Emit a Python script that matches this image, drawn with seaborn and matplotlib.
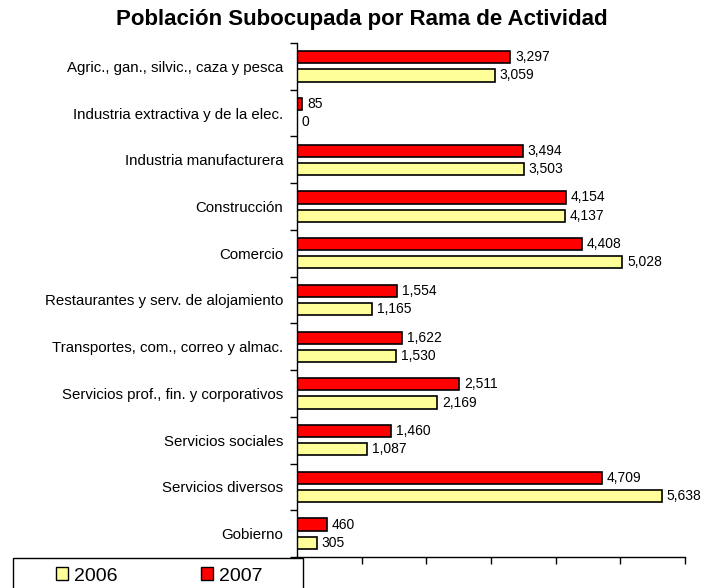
import matplotlib
matplotlib.use("Agg")
import matplotlib.pyplot as plt
import seaborn as sns
import pandas as pd
import numpy as np
from matplotlib.patches import Patch, Rectangle

categories = [
    "Agric., gan., silvic., caza y pesca",
    "Industria extractiva y de la elec.",
    "Industria manufacturera",
    "Construcción",
    "Comercio",
    "Restaurantes y serv. de alojamiento",
    "Transportes, com., correo y almac.",
    "Servicios prof., fin. y corporativos",
    "Servicios sociales",
    "Servicios diversos",
    "Gobierno",
]
values_2007 = [3297, 85, 3494, 4154, 4408, 1554, 1622, 2511, 1460, 4709, 460]
values_2006 = [3059, 0, 3503, 4137, 5028, 1165, 1530, 2169, 1087, 5638, 305]
years = ["2007", "2006"]
title = "Población Subocupada por Rama de Actividad"

df = pd.DataFrame({
    "cat": categories * 2,
    "year": ["2007"] * len(categories) + ["2006"] * len(categories),
    "val": values_2007 + values_2006,
})

sns.set_style("white")
plt.rcParams["font.family"] = ["Liberation Sans", "DejaVu Sans"]
plt.rcParams["text.color"] = "black"
plt.rcParams["axes.labelcolor"] = "black"
plt.rcParams["xtick.color"] = "black"
plt.rcParams["ytick.color"] = "black"

W, H = 705, 588
fig = plt.figure(figsize=(W / 100, H / 100), dpi=100)
ax = fig.add_axes([297 / W, 1 - 557 / H, (685 - 297) / W, (557 - 43) / H])

palette = {"2007": "#FF0000", "2006": "#FFFF99"}
sns.barplot(data=df, y="cat", x="val", hue="year", hue_order=years,
            palette=palette, orient="h", width=0.78, gap=0.33,
            edgecolor="black", linewidth=1.2, saturation=1, ax=ax,
            legend=False, order=categories)

for cont in ax.containers:
    labels = [f"{v:,.0f}" for v in cont.datavalues]
    ax.bar_label(cont, labels=labels, padding=3.5, fontsize=10, color="black")

ax.set_xlim(0, 6000)
ax.set_ylim(len(categories) - 0.5, -0.5)
ax.set_xticks(np.arange(0, 6001, 1000))
ax.set_xticklabels([])
ax.set_xlabel("")
ax.set_ylabel("")
ax.set_yticks(np.arange(len(categories)))
ax.set_yticklabels(categories, fontsize=10.8, color="black")
ax.tick_params(axis="y", which="major", length=0, pad=10, left=False)
ax.set_yticks(np.arange(len(categories) + 1) - 0.5, minor=True)
ax.tick_params(axis="y", which="minor", length=5, width=1, direction="out",
               color="black", left=True)
ax.tick_params(axis="x", which="major", length=5, width=1, direction="out",
               color="black", bottom=True)
for s in ["top", "right"]:
    ax.spines[s].set_visible(False)
for s in ["left", "bottom"]:
    ax.spines[s].set_color("black")
    ax.spines[s].set_linewidth(1)
ax.grid(False)

fig.text(362 / W, 1 - 20 / H, title, ha="center", va="center",
         fontsize=16, fontweight="bold", color="black")

# legend frame
fig.patches.append(Rectangle((13 / W, -0.05), (303 - 13) / W, 0.05 + (1 - 558 / H),
                             transform=fig.transFigure, facecolor="white",
                             edgecolor="black", linewidth=1, zorder=5))
handles = [Patch(facecolor=palette["2006"], edgecolor="black", label="2006"),
           Patch(facecolor=palette["2007"], edgecolor="black", label="2007")]
leg = fig.legend(handles=handles, loc="center left",
                 bbox_to_anchor=(56 / W, 1 - 576 / H),
                 ncol=2, fontsize=14, frameon=False,
                 handlelength=0.62, handleheight=0.62, handletextpad=0.3,
                 columnspacing=4.3, borderpad=0, borderaxespad=0)
leg.set_zorder(6)

fig.savefig("out.png", dpi=100)
